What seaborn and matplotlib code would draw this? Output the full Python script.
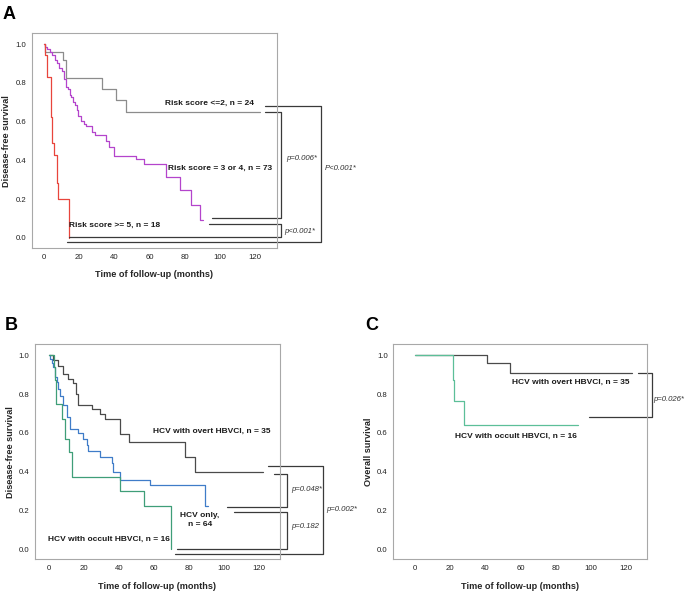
import matplotlib
matplotlib.use("Agg")

import pandas as pd
import matplotlib.pyplot as plt
import seaborn as sns

# Panel A: disease-free survival by risk score (Kaplan-Meier steps)
a_low_t = [0, 0.5, 10.8, 12.2, 32.7, 40.6, 46.3, 123.0]
a_low_s = [1.0, 0.958, 0.917, 0.824, 0.77, 0.71, 0.652, 0.652]
a_mid_t = [0, 0.5, 1.5, 3, 4.5, 6, 7, 8.5, 10, 11.5, 12.5, 13.5, 14.5, 15.5, 16.5, 17.5,
           18.5, 19.5, 21, 22.5, 24, 27, 29, 35, 37, 40, 52, 57, 69.5, 77.3, 83.5, 88.7, 90.5]
a_mid_s = [1.0, 0.986, 0.973, 0.959, 0.945, 0.918, 0.904, 0.877, 0.863, 0.822, 0.781, 0.767,
           0.74, 0.726, 0.699, 0.685, 0.658, 0.63, 0.603, 0.589, 0.575, 0.548, 0.53, 0.5,
           0.47, 0.425, 0.405, 0.38, 0.316, 0.247, 0.169, 0.092, 0.092]
a_high_t = [0, 0.7, 1.3, 3.6, 4.6, 5.7, 7.0, 8.0, 14.0]
a_high_s = [1.0, 0.944, 0.833, 0.626, 0.49, 0.43, 0.285, 0.2, 0.0]

# Panel B: disease-free survival by HBV status
b_overt_t = [0, 2.5, 5.3, 8.2, 11.0, 13.9, 15.2, 16.7, 24.3, 29.1, 31.9, 40.5, 45.8, 77.6, 83.3, 122.3]
b_overt_s = [1.0, 0.974, 0.945, 0.905, 0.88, 0.857, 0.80, 0.745, 0.725, 0.699, 0.67, 0.596,
             0.553, 0.476, 0.398, 0.398]
b_only_t = [0, 0.6, 1.5, 2.5, 3.4, 4.4, 5.3, 6.3, 8.2, 10.1, 12.0, 16.7, 19.6, 21.5, 22.4,
            29.1, 35.7, 36.7, 40.5, 57.6, 89.0, 90.9]
b_only_s = [1.0, 0.983, 0.96, 0.94, 0.888, 0.86, 0.828, 0.79, 0.742, 0.682, 0.622, 0.601,
            0.57, 0.536, 0.505, 0.476, 0.442, 0.399, 0.359, 0.33, 0.222, 0.222]
b_occ_t = [0, 2.8, 3.4, 3.9, 7.2, 9.1, 11.6, 13.3, 40.5, 54.0, 69.4]
b_occ_s = [1.0, 0.938, 0.875, 0.75, 0.67, 0.57, 0.50, 0.37, 0.30, 0.22, 0.0]

# Panel C: overall survival
c_overt_t = [0, 40.8, 54.0, 123.2]
c_overt_s = [1.0, 0.96, 0.911, 0.911]
c_occ_t = [0, 21.8, 22.3, 28.0, 92.9]
c_occ_s = [1.0, 0.875, 0.764, 0.639, 0.639]

x_ticks = [0, 20, 40, 60, 80, 100, 120]
y_ticks = [0.0, 0.2, 0.4, 0.6, 0.8, 1.0]

sns.set_style("white")
plt.rcParams["font.family"] = ["Liberation Sans", "DejaVu Sans"]

BRACKET = "#3a3a3a"
LBL = dict(fontsize=6.0, fontweight="bold", color="#1a1a1a")
PV = dict(fontsize=5.6, style="italic", color="#333333", va="center")

fig = plt.figure(figsize=(6.86, 5.92), dpi=100)
ax_a = fig.add_axes([0.0466, 0.581, 0.357, 0.363])
ax_b = fig.add_axes([0.051, 0.0552, 0.357, 0.3632])
ax_c = fig.add_axes([0.5733, 0.0552, 0.3694, 0.3632])


def km(ax, t, s, color):
    df = pd.DataFrame({"time": t, "surv": s})
    sns.lineplot(data=df, x="time", y="surv", drawstyle="steps-post", estimator=None,
                 sort=False, color=color, lw=0.9, ax=ax)


def style(ax, xlim, ylabel):
    ax.set_xlim(*xlim)
    ax.set_ylim(-0.053, 1.057)
    ax.set_xticks(x_ticks)
    ax.set_yticks(y_ticks)
    ax.set_yticklabels([f"{v:.1f}" for v in y_ticks])
    ax.tick_params(length=2.5, width=0.6, color="#666666", labelsize=5.6,
                   labelcolor="#222222", pad=1.5)
    for sp in ax.spines.values():
        sp.set_color("#a8a8a8")
        sp.set_linewidth(0.8)
    ax.set_xlabel("Time of follow-up (months)", fontsize=6.6, fontweight="bold", labelpad=7)
    ax.set_ylabel(ylabel, fontsize=6.6, fontweight="bold", labelpad=3)


def bracket(ax, xs, ys):
    ax.plot(xs, ys, color=BRACKET, lw=0.9, clip_on=False)


# ---- A ----
km(ax_a, a_low_t, a_low_s, "#8c8c8c")
km(ax_a, a_mid_t, a_mid_s, "#b444cc")
km(ax_a, a_high_t, a_high_s, "#e8453c")
style(ax_a, (-7, 132.5), "Disease-free survival")
ax_a.text(94, 0.697, "Risk score <=2, n = 24", ha="center", va="center", **LBL)
ax_a.text(100, 0.36, "Risk score = 3 or 4, n = 73", ha="center", va="center", **LBL)
ax_a.text(40, 0.062, "Risk score >= 5, n = 18", ha="center", va="center", **LBL)
bracket(ax_a, [125.7, 134.8, 134.8, 95.7], [0.652, 0.652, 0.103, 0.103])
bracket(ax_a, [94, 134.8, 134.8, 14.1], [0.071, 0.071, 0.005, 0.005])
bracket(ax_a, [125.7, 157.4, 157.4, 12.7], [0.683, 0.683, -0.024, -0.024])
ax_a.text(137.6, 0.41, "p=0.006*", **PV)
ax_a.text(136.5, 0.03, "p<0.001*", **PV)
ax_a.text(160, 0.36, "P<0.001*", **PV)

# ---- B ----
km(ax_b, b_overt_t, b_overt_s, "#4a4a4a")
km(ax_b, b_only_t, b_only_s, "#3f7cc8")
km(ax_b, b_occ_t, b_occ_s, "#3f9e78")
style(ax_b, (-8, 131.8), "Disease-free survival")
ax_b.text(93, 0.608, "HCV with overt HBVCI, n = 35", ha="center", va="center", **LBL)
ax_b.text(86, 0.15, "HCV only,\nn = 64", ha="center", va="center", linespacing=1.3, **LBL)
ax_b.text(34, 0.05, "HCV with occult HBVCI, n = 16", ha="center", va="center", **LBL)
bracket(ax_b, [128.5, 135.6, 135.6, 101.4], [0.39, 0.39, 0.218, 0.218])
bracket(ax_b, [105.5, 135.6, 135.6, 72.8], [0.192, 0.192, -0.002, -0.002])
bracket(ax_b, [125.1, 156.5, 156.5, 71.9], [0.428, 0.428, -0.027, -0.027])
ax_b.text(138, 0.309, "p=0.048*", **PV)
ax_b.text(138, 0.115, "p=0.182", **PV)
ax_b.text(158, 0.206, "p=0.002*", **PV)

# ---- C ----
km(ax_c, c_overt_t, c_overt_s, "#4a4a4a")
km(ax_c, c_occ_t, c_occ_s, "#5cbf98")
style(ax_c, (-12.3, 131.8), "Overall survival")
ax_c.text(88.7, 0.862, "HCV with overt HBVCI, n = 35", ha="center", va="center", **LBL)
ax_c.text(57.5, 0.582, "HCV with occult HBVCI, n = 16", ha="center", va="center", **LBL)
bracket(ax_c, [127, 134.6, 134.6, 99.1], [0.911, 0.911, 0.682, 0.682])
ax_c.text(135.6, 0.773, "p=0.026*", **PV)

# panel letters
for letter, x, y in [("A", 0.004, 0.968), ("B", 0.007, 0.443), ("C", 0.533, 0.443)]:
    fig.text(x, y, letter, fontsize=13, fontweight="bold", color="black")

fig.savefig("out.png", dpi=100)
